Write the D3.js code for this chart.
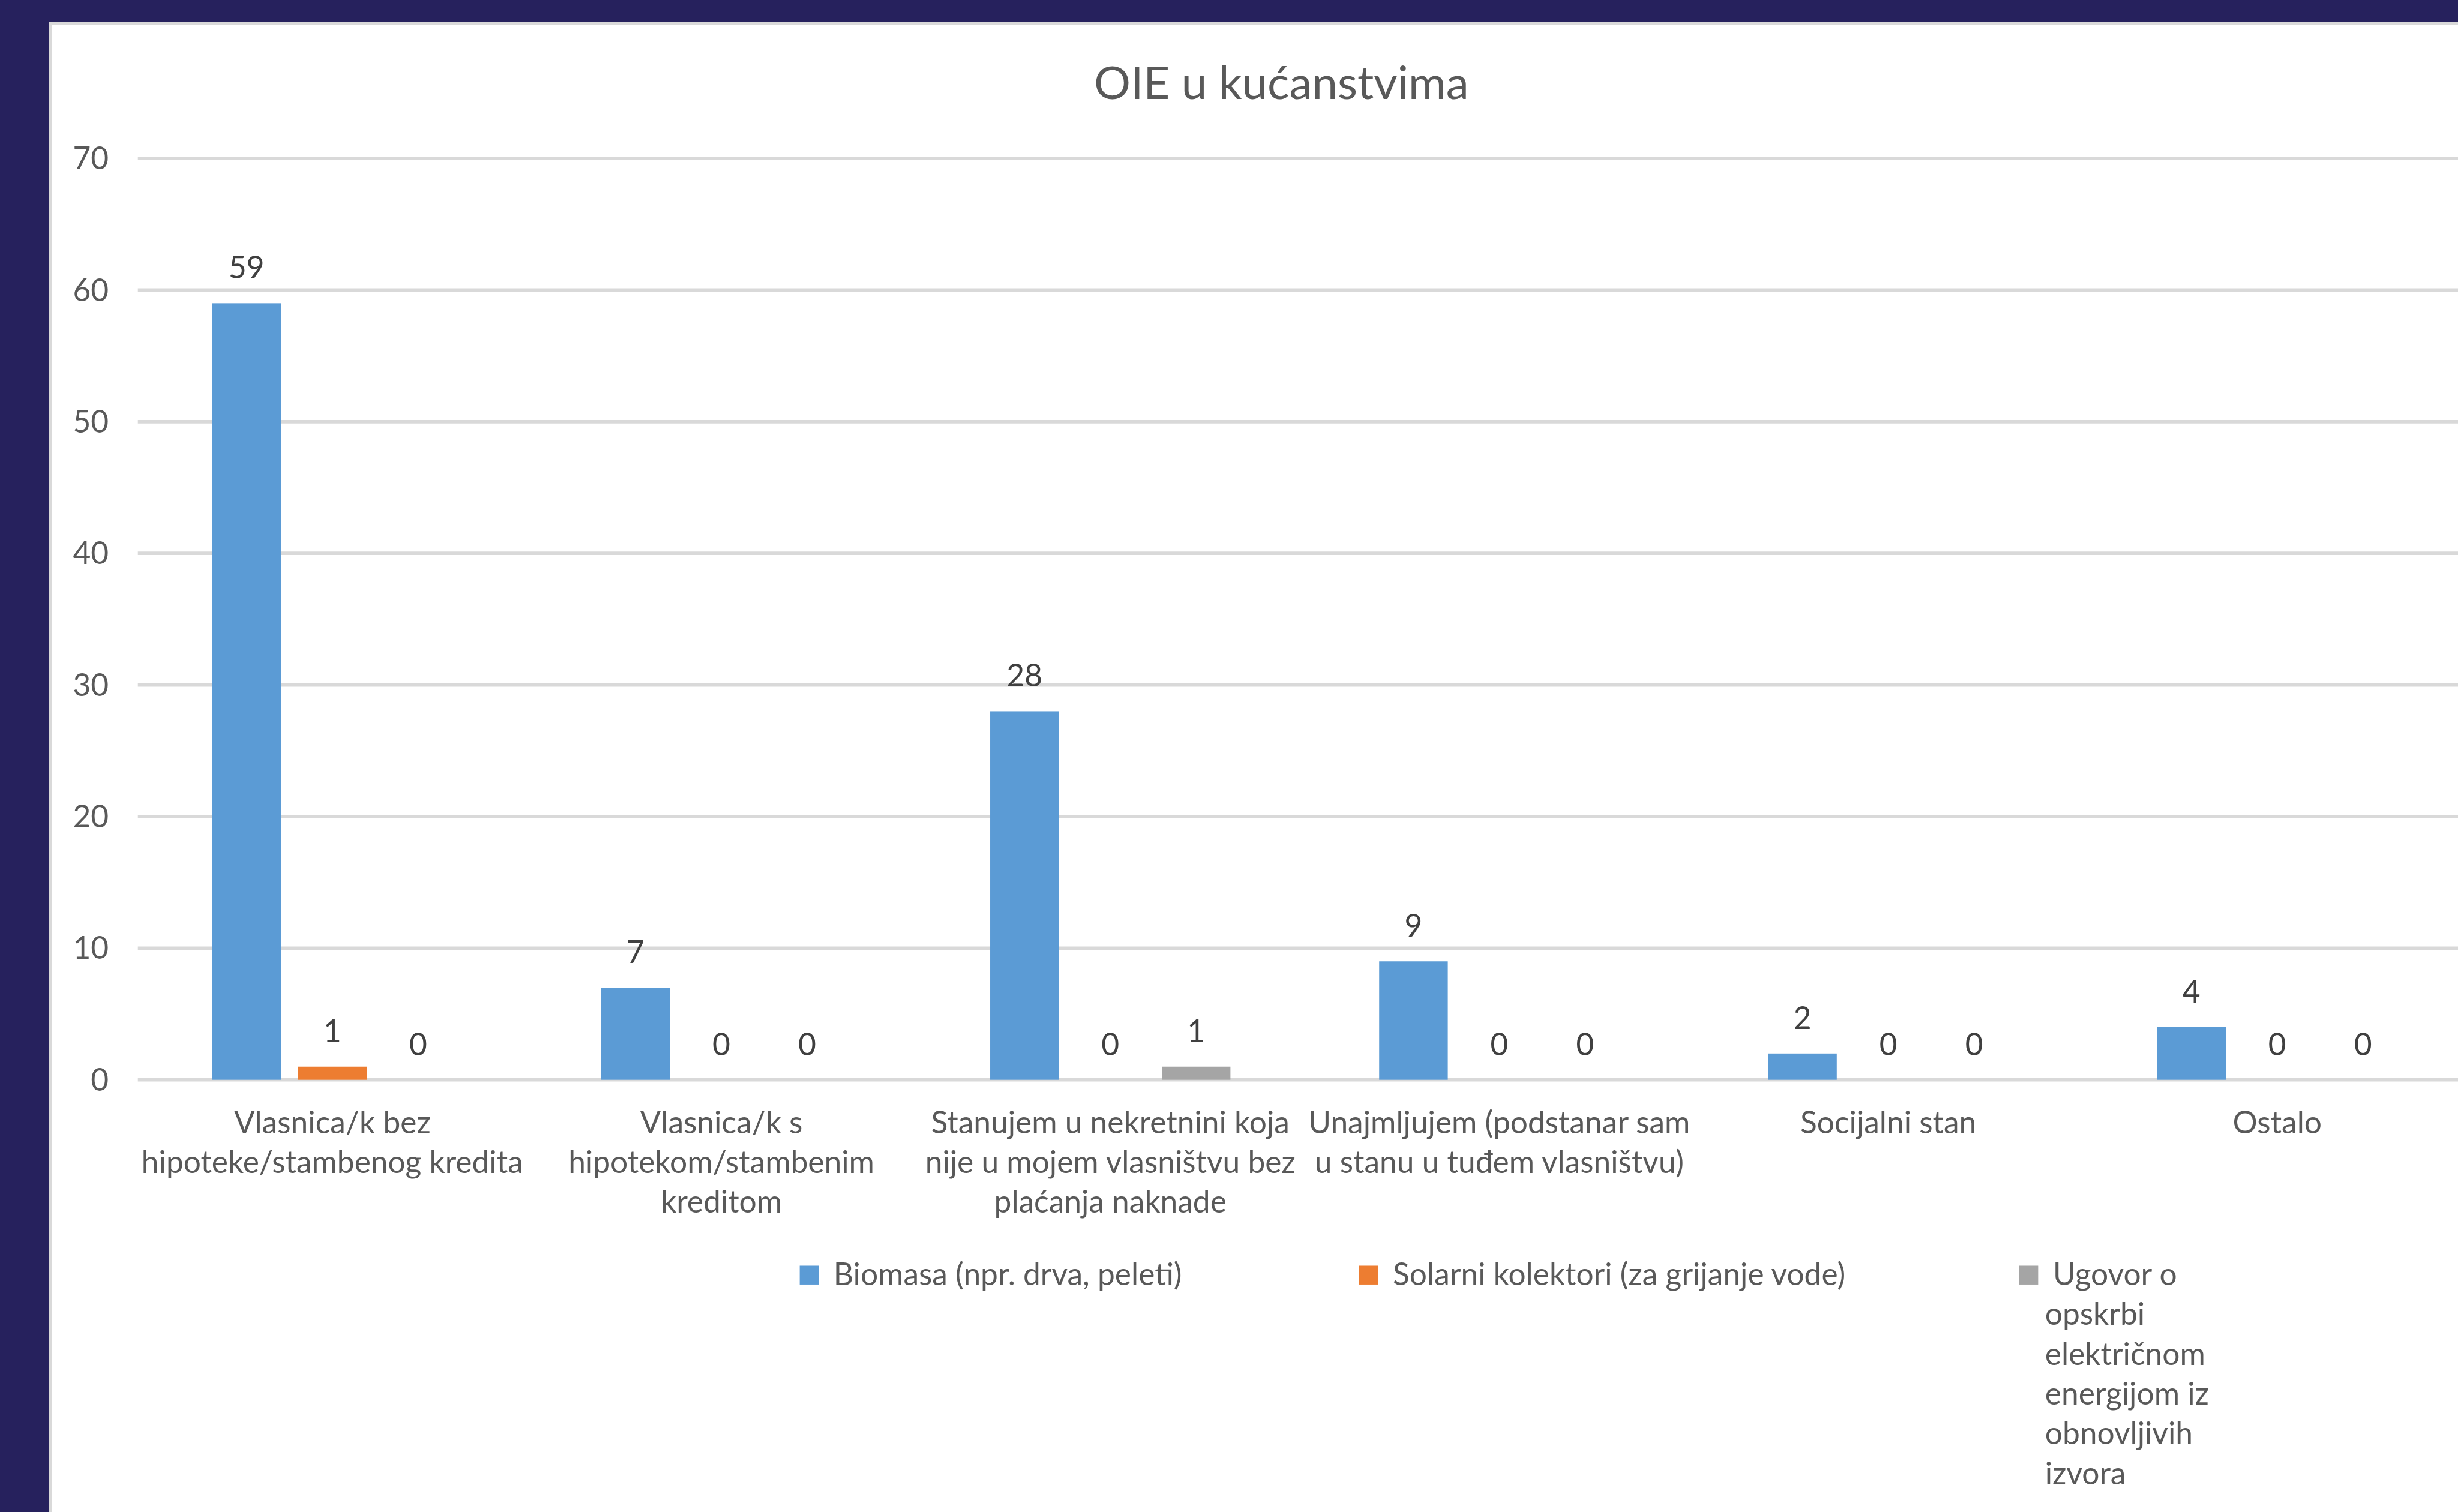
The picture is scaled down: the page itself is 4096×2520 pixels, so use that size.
<!DOCTYPE html>
<html><head><meta charset="utf-8">
<script src="https://cdn.jsdelivr.net/npm/d3@7"></script>
<style>html,body{margin:0;padding:0;background:#26215D;overflow:hidden}</style>
</head><body>
<svg id="c" width="4096" height="2520"></svg>
<script>
// ---- data ----
const chartTitle = "OIE u kućanstvima";
const categories = [
  "Vlasnica/k bez\nhipoteke/stambenog kredita",
  "Vlasnica/k s\nhipotekom/stambenim\nkreditom",
  "Stanujem u nekretnini koja\nnije u mojem vlasništvu bez\nplaćanja naknade",
  "Unajmljujem (podstanar sam\nu stanu u tuđem vlasništvu)",
  "Socijalni stan",
  "Ostalo"
];
const seriesNames = [
  "Biomasa (npr. drva, peleti)",
  "Solarni kolektori (za grijanje vode)",
  "Ugovor o\nopskrbi\nelektričnom\nenergijom iz\nobnovljivih\nizvora"
];
const biomasa = [59, 7, 28, 9, 2, 4];
const solarni = [1, 0, 0, 0, 0, 0];
const ugovor  = [0, 0, 1, 0, 0, 0];
const yTicks = [0, 10, 20, 30, 40, 50, 60, 70];
const colors = ["#5B9BD5", "#ED7D31", "#A5A5A5"];

// ---- layout (reference pixel space, scaled to window) ----
const S = 4096 / 4297;
const FONT = "Lato, 'Open Sans', sans-serif";
const FS = 54;
const svg = d3.select("#c");
const g = svg.append("g").attr("transform", `scale(${S})`);

g.append("rect").attr("x", 88).attr("y", 41).attr("width", 6000).attr("height", 6000)
  .attr("fill", "#fff").attr("stroke", "#D9D9D9").attr("stroke-width", 6);

const seriesValues = [biomasa, solarni, ugovor];
const y = d3.scaleLinear().domain([0, 70]).range([1888, 277]);
const x0 = d3.scaleBand().domain(categories).range([241, 4321]).padding(0);
const x1 = d3.scaleBand().domain(d3.range(seriesNames.length)).range([130, 550]).paddingInner(0.2).paddingOuter(0);

// title
g.append("text").attr("x", 2240).attr("y", 173).attr("text-anchor", "middle")
  .attr("font-family", FONT).attr("font-size", 80).attr("fill", "#595959").text(chartTitle);

// gridlines
g.selectAll("line.grid").data(yTicks).join("line").attr("class", "grid")
  .attr("x1", 241).attr("x2", 4500).attr("y1", d => y(d)).attr("y2", d => y(d))
  .attr("stroke", "#D9D9D9").attr("stroke-width", 6);

// y tick labels
g.selectAll("text.ytick").data(yTicks).join("text").attr("class", "ytick")
  .attr("x", 190).attr("y", d => y(d) + 19).attr("text-anchor", "end")
  .attr("font-family", FONT).attr("font-size", FS).attr("fill", "#595959").text(d => d);

// bars
const rows = [];
categories.forEach((c, i) => seriesValues.forEach((vals, s) => rows.push({c, s, v: vals[i]})));
g.selectAll("rect.bar").data(rows).join("rect").attr("class", "bar")
  .attr("x", d => x0(d.c) + x1(d.s)).attr("width", x1.bandwidth())
  .attr("y", d => y(d.v)).attr("height", d => y(0) - y(d.v))
  .attr("fill", d => colors[d.s]);

// data labels
g.selectAll("text.dl").data(rows).join("text").attr("class", "dl")
  .attr("x", d => x0(d.c) + x1(d.s) + x1.bandwidth() / 2).attr("y", d => y(d.v) - 43)
  .attr("text-anchor", "middle").attr("font-family", FONT).attr("font-size", FS)
  .attr("fill", "#404040").text(d => d.v);

// category labels
categories.forEach(c => {
  const t = g.append("text").attr("text-anchor", "middle").attr("font-family", FONT)
    .attr("font-size", FS).attr("fill", "#595959");
  c.split("\n").forEach((line, k) => {
    t.append("tspan").attr("x", x0(c) + x0.bandwidth() / 2).attr("y", 1982 + k * 69).text(line);
  });
});

// legend
const legendX = [1398, 2376, 3530];
seriesNames.forEach((name, s) => {
  g.append("rect").attr("x", legendX[s]).attr("y", 2213).attr("width", 33).attr("height", 33)
    .attr("fill", colors[s]);
  const t = g.append("text").attr("font-family", FONT).attr("font-size", FS).attr("fill", "#595959");
  name.split("\n").forEach((line, k) => {
    t.append("tspan").attr("x", legendX[s] + (k === 0 ? 59 : 45)).attr("y", 2247 + k * 69.6).text(line);
  });
});
</script>
</body></html>
